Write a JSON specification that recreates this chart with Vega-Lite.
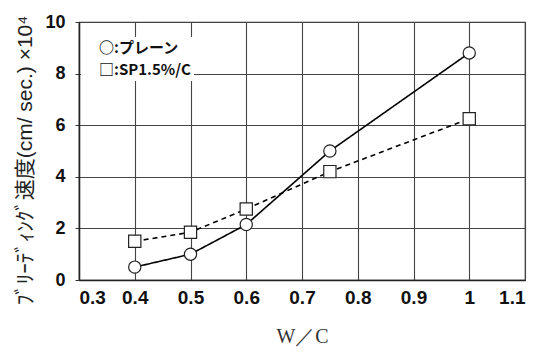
{
  "$schema": "https://vega.github.io/schema/vega-lite/v6.json",
  "autosize": "none",
  "width": 446,
  "height": 258,
  "padding": {"left": 79, "top": 22, "right": 18, "bottom": 74},
  "background": "white",
  "data": {
    "values": [
      {"wc": 0.4, "v": 0.5, "series": "プレーン"},
      {"wc": 0.5, "v": 1.0, "series": "プレーン"},
      {"wc": 0.6, "v": 2.15, "series": "プレーン"},
      {"wc": 0.75, "v": 5.0, "series": "プレーン"},
      {"wc": 1.0, "v": 8.8, "series": "プレーン"},
      {"wc": 0.4, "v": 1.5, "series": "SP1.5%/C"},
      {"wc": 0.5, "v": 1.85, "series": "SP1.5%/C"},
      {"wc": 0.6, "v": 2.75, "series": "SP1.5%/C"},
      {"wc": 0.75, "v": 4.2, "series": "SP1.5%/C"},
      {"wc": 1.0, "v": 6.25, "series": "SP1.5%/C"}
    ]
  },
  "layer": [
    {
      "mark": {"type": "line", "color": "black", "strokeWidth": 1.6},
      "encoding": {
        "x": {
          "field": "wc", "type": "quantitative",
          "scale": {"domain": [0.3, 1.1], "nice": false, "zero": false},
          "axis": {
            "values": [0.3, 0.4, 0.5, 0.6, 0.7, 0.8, 0.9, 1.0, 1.1],
            "format": "~g",
            "grid": true, "gridColor": "#444", "gridWidth": 1.1,
            "ticks": false,
            "labelFont": "Liberation Sans", "labelFontWeight": "bold", "labelFontSize": 19, "labelColor": "#111",
            "labelPadding": 8,
            "title": "W／C", "titleFont": "Liberation Serif", "titleFontWeight": "normal", "titleFontSize": 20, "titleColor": "#333",
            "titlePadding": 19
          }
        },
        "y": {
          "field": "v", "type": "quantitative",
          "scale": {"domain": [0, 10], "nice": false},
          "axis": {
            "values": [0, 1, 2, 3, 4, 5, 6, 7, 8, 9, 10],
            "grid": true, "gridWidth": 1.1,
            "gridColor": {"condition": {"test": "datum.value % 2 == 0", "value": "#444"}, "value": "transparent"},
            "labelExpr": "datum.value % 2 == 0 ? datum.label : ''",
            "tickSize": 4, "tickColor": "#333",
            "labelFont": "Liberation Sans", "labelFontWeight": "bold", "labelFontSize": 18, "labelColor": "#111",
            "labelPadding": 10,
            "title": "ﾌﾞﾘｰﾃﾞｨﾝｸﾞ速度(cm/ sec.) ×10⁴",
            "titleFont": "Liberation Sans, Noto Sans CJK JP", "titleFontWeight": "normal", "titleFontSize": 21, "titleColor": "#222",
            "titleAnchor": "middle", "titleX": -54, "titleY": 138, "titleBaseline": "middle", "titleAngle": -90
          }
        },
        "detail": {"field": "series"},
        "strokeDash": {
          "field": "series", "type": "nominal",
          "scale": {"domain": ["プレーン", "SP1.5%/C"], "range": [[1, 0], [5, 4]]},
          "legend": {
            "orient": "none", "legendX": 2, "legendY": 15,
            "labelExpr": "datum.label == 'プレーン' ? '○:プレーン' : '□:SP1.5%/C'"
          }
        }
      }
    },
    {
      "mark": {"type": "point", "filled": true, "fill": "white", "stroke": "#222", "strokeWidth": 1.2, "size": 150, "opacity": 1},
      "encoding": {
        "x": {"field": "wc", "type": "quantitative"},
        "y": {"field": "v", "type": "quantitative"},
        "shape": {
          "field": "series", "type": "nominal",
          "scale": {"domain": ["プレーン", "SP1.5%/C"], "range": ["circle", "square"]},
          "legend": {
            "orient": "none", "legendX": 2, "legendY": 15,
            "labelExpr": "datum.label == 'プレーン' ? '○:プレーン' : '□:SP1.5%/C'"
          }
        }
      }
    }
  ],
  "config": {
    "view": {"stroke": "#333", "strokeWidth": 1.2},
    "axis": {"domain": true, "domainColor": "#222", "domainWidth": 1.5},
    "legend": {
      "title": null,
      "fillColor": "white", "padding": 3,
      "symbolSize": 1, "symbolOpacity": 0, "symbolStrokeWidth": 0, "symbolStrokeColor": "transparent", "symbolFillColor": "transparent",
      "labelOffset": 0,
      "rowPadding": 6,
      "labelFont": "Noto Sans CJK JP", "labelFontWeight": "bold", "labelFontSize": 15, "labelColor": "#111"
    }
  }
}
